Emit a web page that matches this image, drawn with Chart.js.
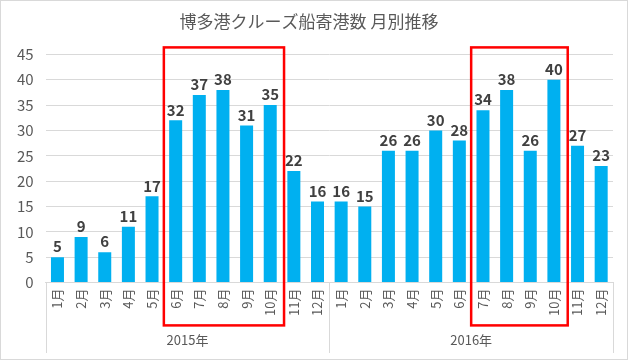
<!DOCTYPE html>
<html>
<head>
<meta charset="utf-8">
<script src="https://cdn.jsdelivr.net/npm/chart.js@4/dist/chart.umd.min.js"></script>
<style>
  body { margin: 0; background: #fff; }
  #wrap { width: 628px; height: 360px; box-sizing: border-box; border: 1px solid #d9d9d9; }
</style>
</head>
<body>
<div id="wrap"><canvas id="myChart" width="626" height="358"></canvas></div>
<script>
var months = ['1月','2月','3月','4月','5月','6月','7月','8月','9月','10月','11月','12月',
              '1月','2月','3月','4月','5月','6月','7月','8月','9月','10月','11月','12月'];
var years = ['2015年', '2016年'];
var counts = [5, 9, 6, 11, 17, 32, 37, 38, 31, 35, 22, 16,
              16, 15, 26, 26, 30, 28, 34, 38, 26, 40, 27, 23];
// highlighted ranges (first index, last index)
var highlights = [[5, 9], [18, 21]];

var jpFont = "'Noto Sans CJK JP', 'Noto Sans', sans-serif";

var extras = {
  id: 'extras',
  afterDatasetsDraw: function(chart) {
    var ctx = chart.ctx;
    var x = chart.scales.x;
    var area = chart.chartArea;
    var step = x.getPixelForValue(1) - x.getPixelForValue(0);
    var meta = chart.getDatasetMeta(0);

    // value labels
    ctx.save();
    ctx.fillStyle = '#404040';
    ctx.font = 'bold 15px ' + jpFont;
    ctx.textAlign = 'center';
    ctx.textBaseline = 'bottom';
    meta.data.forEach(function(bar, i) {
      ctx.fillText(counts[i], bar.x, bar.y - 3);
    });
    ctx.restore();

    // group separators and year labels
    ctx.save();
    ctx.strokeStyle = '#d9d9d9';
    ctx.lineWidth = 1;
    var per = months.length / years.length;
    for (var g = 0; g <= years.length; g++) {
      var px = Math.round(x.getPixelForValue(g * per) - step / 2) + 0.5;
      ctx.beginPath();
      ctx.moveTo(px, area.bottom);
      ctx.lineTo(px, chart.height - 6);
      ctx.stroke();
    }
    ctx.fillStyle = '#595959';
    ctx.font = '13px ' + jpFont;
    ctx.textAlign = 'center';
    ctx.textBaseline = 'middle';
    years.forEach(function(y, g) {
      var cx = (x.getPixelForValue(g * per) + x.getPixelForValue((g + 1) * per - 1)) / 2;
      ctx.fillText(y, cx, chart.height - 19);
    });
    ctx.restore();

    // red boxes
    ctx.save();
    ctx.strokeStyle = '#ff0000';
    ctx.lineWidth = 2.5;
    highlights.forEach(function(h) {
      var l = x.getPixelForValue(h[0]) - step / 2;
      var r = x.getPixelForValue(h[1]) + step / 2 + 2;
      ctx.strokeRect(l, area.top - 7, r - l, 278);
    });
    ctx.restore();
  }
};

new Chart(document.getElementById('myChart'), {
  type: 'bar',
  data: {
    labels: months,
    datasets: [{
      label: '寄港数',
      data: counts,
      backgroundColor: '#00B0F0',
      categoryPercentage: 1,
      barPercentage: 0.55
    }]
  },
  options: {
    responsive: false,
    animation: false,
    layout: { padding: { left: 4, right: 14, top: 4, bottom: 37 } },
    plugins: {
      legend: { display: false },
      tooltip: { enabled: false },
      title: {
        display: true,
        text: '博多港クルーズ船寄港数 月別推移',
        color: '#595959',
        font: { family: jpFont, size: 17, weight: 'normal' },
        padding: { top: 6, bottom: 23 }
      }
    },
    scales: {
      x: {
        grid: { display: false, drawTicks: false },
        border: { display: true, color: '#d9d9d9' },
        ticks: {
          color: '#595959',
          font: { family: jpFont, size: 13 },
          minRotation: 90,
          maxRotation: 90,
          autoSkip: false,
          padding: 6
        }
      },
      y: {
        min: 0,
        max: 45,
        ticks: {
          stepSize: 5,
          color: '#595959',
          font: { family: jpFont, size: 15 },
          padding: 12
        },
        grid: { color: '#d9d9d9', drawTicks: false },
        border: { display: false }
      }
    }
  },
  plugins: [extras]
});
</script>
</body>
</html>
